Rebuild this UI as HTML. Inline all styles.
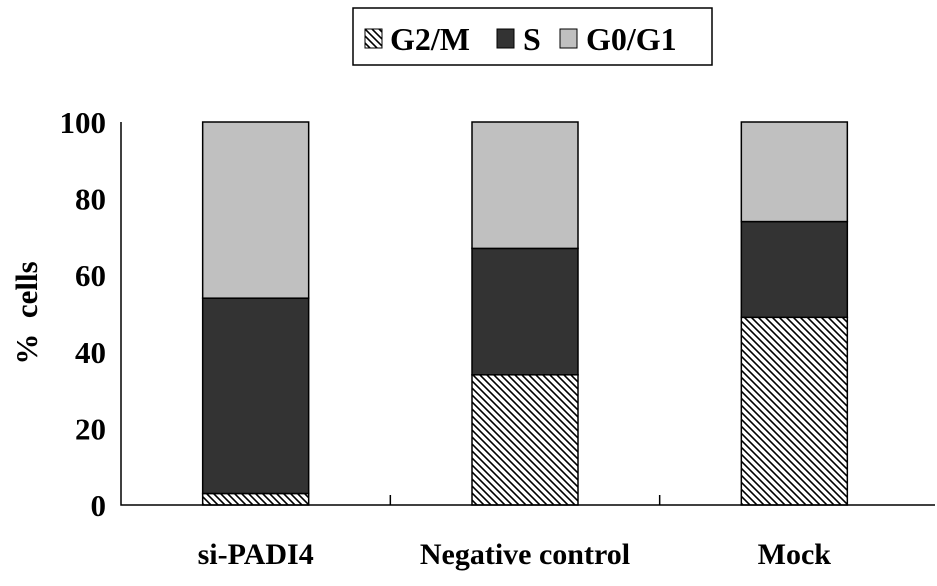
<!DOCTYPE html>
<html><head><meta charset="utf-8"><style>
html,body{margin:0;padding:0;background:#fff;}
svg text{font-family:"Liberation Serif",serif;font-weight:bold;fill:#000;}
</style></head><body>
<svg id="chart" width="937" height="581">
<defs>
<pattern id="hatch" width="7" height="7" patternUnits="userSpaceOnUse">
<rect width="7" height="7" fill="#fff"/>
<path d="M-1,-1 L8,8 M-1,6 L1,8 M6,-1 L8,1" stroke="#000" stroke-width="1.6"/>
</pattern>
</defs>
<g>
<rect x="353" y="8" width="359" height="57" fill="#fff" stroke="#000" stroke-width="1.5"/>
<g><rect x="365" y="29" width="17" height="19" fill="url(#hatch)" stroke="#000"/><text x="390" y="50" font-size="32">G2/M</text></g>
<g><rect x="497" y="29" width="17" height="19" fill="#333" stroke="#000"/><text x="523" y="50" font-size="32">S</text></g>
<g><rect x="560" y="29" width="17" height="19" fill="#c0c0c0" stroke="#000"/><text x="586" y="50" font-size="32">G0/G1</text></g>
</g>
<text transform="translate(37,313) rotate(-90)" text-anchor="middle" font-size="31">%&#160; cells</text>
<g id="plot"></g>
</svg>
<script>
const categories=["si-PADI4","Negative control","Mock"];
const g2m=[3,34,49];
const sPhase=[51,33,25];
const g0g1=[46,33,26];
const yTicks=[0,20,40,60,80,100];
const X0=121,X1=929,Y0=505,Y100=122;
const ns="http://www.w3.org/2000/svg";
const plot=document.getElementById('plot');
function y(v){return Y0-(Y0-Y100)*v/100;}
const bw=(X1-X0)/categories.length;
function cx(i){return X0+bw*(i+0.5);}
function mk(tag,attrs){const e=document.createElementNS(ns,tag);for(const k in attrs)e.setAttribute(k,attrs[k]);plot.appendChild(e);return e;}
yTicks.forEach(t=>{
 const tx=mk('text',{x:106,y:y(t)+11,'text-anchor':'end','font-size':'31'});
 tx.textContent=t;
 
 
});
categories.forEach((c,i)=>{
 const x=cx(i)-53,w=106;
 const segs=[[0,g2m[i],'url(#hatch)','bar-g2m'],[g2m[i],g2m[i]+sPhase[i],'#333','bar-s'],[g2m[i]+sPhase[i],g2m[i]+sPhase[i]+g0g1[i],'#c0c0c0','bar-g0g1']];
 segs.forEach(s=>{
  const r=mk('rect',{x:x,y:y(s[1]),width:w,height:y(s[0])-y(s[1]),fill:s[2],stroke:'#000','stroke-width':1.5});
  
  
 });
 const lb=mk('text',{x:cx(i),y:564,'text-anchor':'middle','font-size':'30'});
 lb.textContent=c;
 
 
 if(i>0){const tk=mk('line',{x1:X0+bw*i,x2:X0+bw*i,y1:Y0,y2:Y0-10,stroke:'#000','stroke-width':1.5});
 
 }
});
const ax=mk('path',{d:`M${X0},${Y100} L${X0},${Y0} L${X1+6},${Y0}`,fill:'none',stroke:'#000','stroke-width':1.5});


</script>
</body></html>
